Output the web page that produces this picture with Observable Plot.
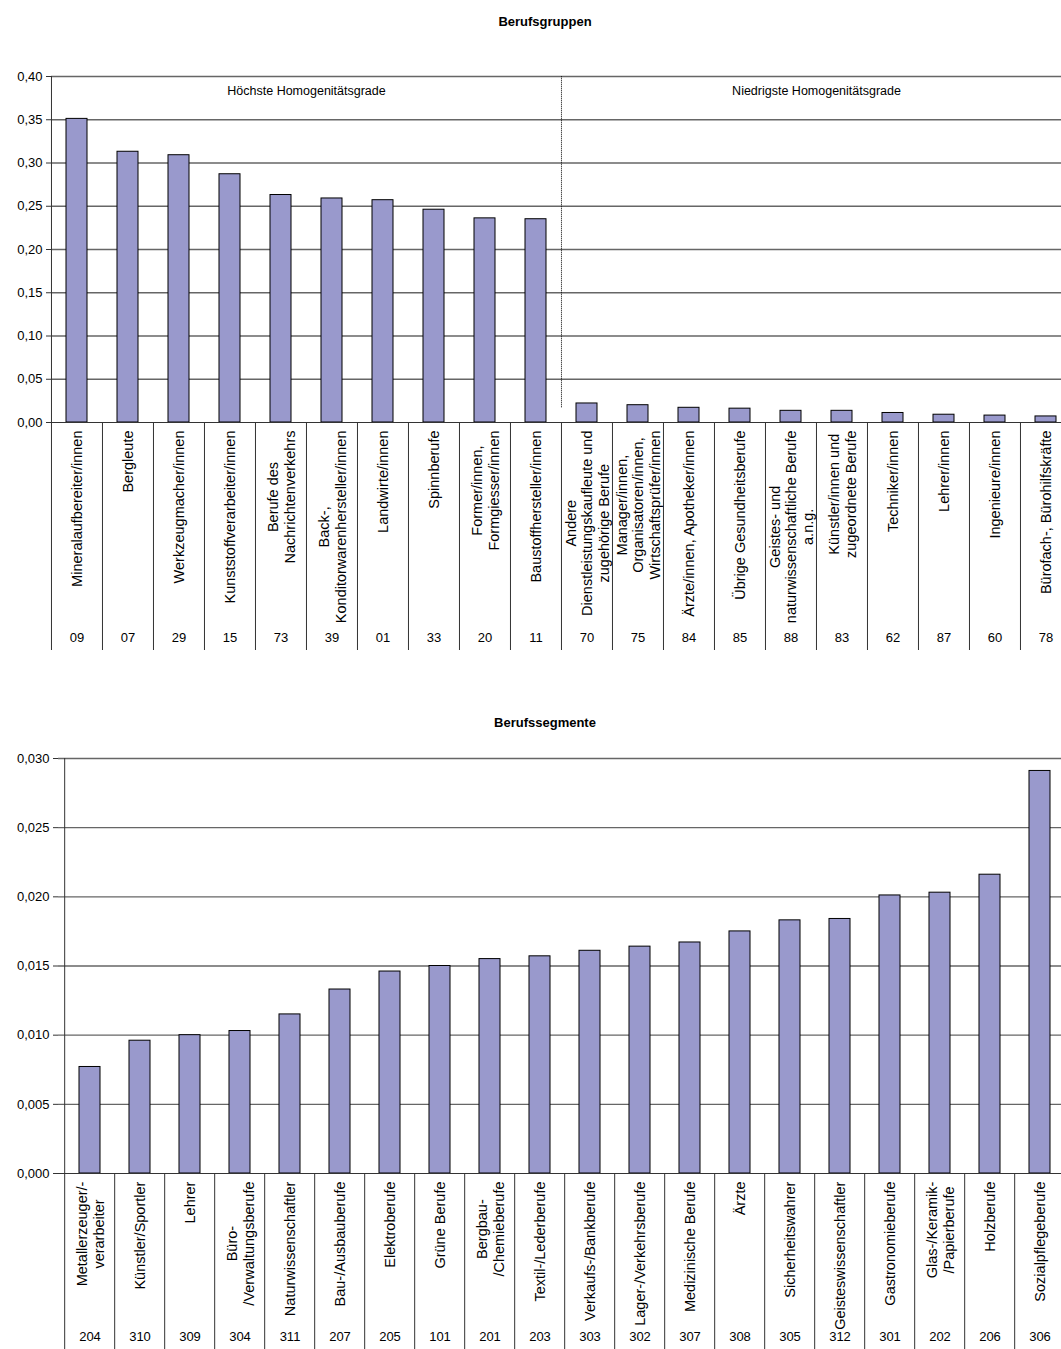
<!DOCTYPE html>
<html>
<head>
<meta charset="utf-8">
<script src="https://cdn.jsdelivr.net/npm/d3@7"></script>
<script src="https://cdn.jsdelivr.net/npm/@observablehq/plot@0.6"></script>
<style>
  html, body { margin: 0; padding: 0; background: #fff; overflow: hidden; }
  #root { position: relative; width: 1061px; height: 1349px; overflow: hidden; font-family: "Liberation Sans", Arial, sans-serif; }
  .title { position: absolute; left: 0; width: 1090px; text-align: center; font-weight: bold; font-size: 13px; color: #000; }
  .chart { position: absolute; left: 0; }
</style>
</head>
<body>
<div id="root">
  <div class="title" style="top:14px">Berufsgruppen</div>
  <div class="chart" id="c1" style="top:60px"></div>
  <div class="title" style="top:715px">Berufssegmente</div>
  <div class="chart" id="c2" style="top:740px"></div>
</div>
<script>
// ---------- Data: Berufsgruppen ----------
const gruppenCodes = ["09","07","29","15","73","39","01","33","20","11","70","75","84","85","88","83","62","87","60","78"];
const gruppenLabels = [
  "Mineralaufbereiter/innen",
  "Bergleute",
  "Werkzeugmacher/innen",
  "Kunststoffverarbeiter/innen",
  "Berufe des\nNachrichtenverkehrs",
  "Back-,\nKonditorwarenhersteller/innen",
  "Landwirte/innen",
  "Spinnberufe",
  "Former/innen,\nFormgiesser/innen",
  "Baustoffhersteller/innen",
  "Andere\nDienstleistungskaufleute und\nzugehörige Berufe",
  "Manager/innen,\nOrganisatoren/innen,\nWirtschaftsprüfer/innen",
  "Ärzte/innen, Apotheker/innen",
  "Übrige Gesundheitsberufe",
  "Geistes- und\nnaturwissenschaftliche Berufe\na.n.g.",
  "Künstler/innen und\nzugeordnete Berufe",
  "Techniker/innen",
  "Lehrer/innen",
  "Ingenieure/innen",
  "Bürofach-, Bürohilfskräfte"
];
const gruppenValues = [0.351,0.313,0.309,0.287,0.263,0.259,0.257,0.246,0.236,0.235,0.022,0.020,0.017,0.016,0.0135,0.0135,0.011,0.009,0.008,0.007];
const gruppenTicks = [0,0.05,0.10,0.15,0.20,0.25,0.30,0.35,0.40];
const gruppenGroupNames = ["Höchste Homogenitätsgrade","Niedrigste Homogenitätsgrade"];
const gruppenGroupSize = 10;

// ---------- Data: Berufssegmente ----------
const segmentCodes = ["204","310","309","304","311","207","205","101","201","203","303","302","307","308","305","312","301","202","206","306"];
const segmentLabels = [
  "Metallerzeuger/-\nverarbeiter",
  "Künstler/Sportler",
  "Lehrer",
  "Büro-\n/Verwaltungsberufe",
  "Naturwissenschaftler",
  "Bau-/Ausbauberufe",
  "Elektroberufe",
  "Grüne Berufe",
  "Bergbau-\n/Chemieberufe",
  "Textil-/Lederberufe",
  "Verkaufs-/Bankberufe",
  "Lager-/Verkehrsberufe",
  "Medizinische Berufe",
  "Ärzte",
  "Sicherheitswahrer",
  "Geisteswissenschaftler",
  "Gastronomieberufe",
  "Glas-/Keramik-\n/Papierberufe",
  "Holzberufe",
  "Sozialpflegeberufe"
];
const segmentValues = [0.0077,0.0096,0.0100,0.0103,0.0115,0.0133,0.0146,0.0150,0.0155,0.0157,0.0161,0.0164,0.0167,0.0175,0.0183,0.0184,0.0201,0.0203,0.0216,0.0291];
const segmentTicks = [0,0.005,0.010,0.015,0.020,0.025,0.030];

const BAR_FILL = "#9999cc";
const FONT = '"Liberation Sans", Arial, sans-serif';
const comma = dec => d => d.toFixed(dec).replace(".", ",");

function drawChart(el, cfg) {
  const data = cfg.codes.map((c, i) => ({code: c, label: cfg.labels[i], value: cfg.values[i]}));
  const [r0, r1] = cfg.xRange;
  const step = (r1 - r0) / cfg.codes.length;
  const yMax = cfg.ticks[cfg.ticks.length - 1];
  const marks = [
    Plot.gridY(cfg.ticks.slice(1), {stroke: "#666", strokeOpacity: 1, strokeWidth: 1.3}),
    Plot.barY(data, {x: "code", y: "value", fill: BAR_FILL, stroke: "#000", strokeWidth: 1}),
    Plot.ruleY([0], {stroke: "#333"}),
    Plot.ruleX([cfg.codes[0]], {x: d => d, dx: -step / 2, y1: 0, y2: yMax, stroke: "#333"}),
    Plot.axisY({ticks: cfg.ticks, tickFormat: comma(cfg.decimals), tickSize: 5, tickPadding: 4, label: null, fontSize: 13, stroke: "#333"}),
    Plot.ruleX(cfg.codes, {x: d => d, dx: -step / 2, y1: 0, y2: 0, insetBottom: -cfg.sepLength, stroke: "#333"}),
    Plot.ruleX(cfg.codes.slice(-1), {x: d => d, dx: step / 2, y1: 0, y2: 0, insetBottom: -cfg.sepLength, stroke: "#333"}),
    Plot.text(data, {x: "code", text: "label", frameAnchor: "bottom", rotate: -90, textAnchor: "middle", lineAnchor: "middle", dy: cfg.labelDy, fontSize: cfg.labelSize, lineHeight: 1.15, fill: "#000", className: "catlabel"}),
    Plot.text(data, {x: "code", text: "code", frameAnchor: "bottom", dy: cfg.codeDy, fontSize: 13, fill: "#000"})
  ];
  if (cfg.groupNames) {
    const groups = cfg.groupNames.map((name, g) => ({name, anchor: cfg.codes[g * cfg.groupSize + cfg.groupSize / 2 - 1]}));
    marks.push(Plot.text(groups, {x: "anchor", text: "name", frameAnchor: "top", dx: step / 2, dy: 10, fontSize: 12.5, fill: "#000"}));
    marks.push(Plot.ruleX([cfg.codes[cfg.groupSize]], {x: d => d, dx: -step / 2, y1: 0.017, y2: yMax, stroke: "#000", strokeDasharray: "1,1"}));
  }
  const svg = Plot.plot({
    width: 1061,
    height: cfg.height,
    marginTop: cfg.marginTop,
    marginBottom: cfg.marginBottom,
    marginLeft: r0,
    marginRight: 0,
    style: {fontFamily: FONT, fontSize: "12px", color: "#000", background: "#fff", overflow: "visible"},
    x: {domain: cfg.codes, range: cfg.xRange, paddingInner: 0.58, paddingOuter: 0.29, axis: null},
    y: {domain: [0, yMax], axis: null},
    marks
  });
  el.appendChild(svg);
  svg.querySelectorAll("g.catlabel text").forEach(t => {
    const L = t.getBBox().width;
    t.setAttribute("transform", `translate(0,${L / 2}) ` + (t.getAttribute("transform") || ""));
  });
}

drawChart(document.getElementById("c1"), {
  codes: gruppenCodes, labels: gruppenLabels, values: gruppenValues, ticks: gruppenTicks, decimals: 2,
  xRange: [51, 1072], height: 620, marginTop: 16, marginBottom: 258,
  sepLength: 228, labelDy: 8, codeDy: 219, labelSize: 14.5,
  groupNames: gruppenGroupNames, groupSize: gruppenGroupSize
});

drawChart(document.getElementById("c2"), {
  codes: segmentCodes, labels: segmentLabels, values: segmentValues, ticks: segmentTicks, decimals: 3,
  xRange: [58, 1071], height: 609, marginTop: 18, marginBottom: 176,
  sepLength: 176, labelDy: 8, codeDy: 167, labelSize: 14.5
});
</script>
</body>
</html>
